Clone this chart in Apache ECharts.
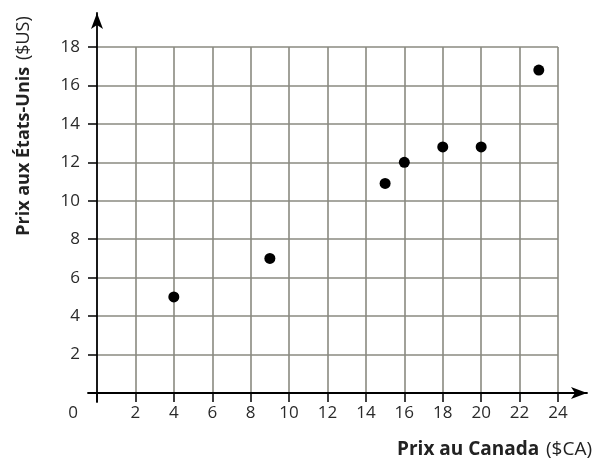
<!DOCTYPE html>
<html><head><meta charset="utf-8">
<script src="https://cdn.jsdelivr.net/npm/echarts@6/dist/echarts.min.js"></script>
<style>html,body{margin:0;padding:0;background:#fff}#c{width:596px;height:463px}</style>
</head><body><div id="c"></div>
<script>
// Data
const canadaPrices = [4, 9, 15, 16, 18, 20, 23];      // Prix au Canada ($CA)
const usPrices     = [5, 7, 10.9, 12, 12.8, 12.8, 16.8]; // Prix aux États-Unis ($US)
const xTicks = [0, 2, 4, 6, 8, 10, 12, 14, 16, 18, 20, 22, 24];
const yTicks = [0, 2, 4, 6, 8, 10, 12, 14, 16, 18];
const xTitle = ['Prix au Canada', '($CA)'];
const yTitle = ['Prix aux États-Unis', '($US)'];

const FONT = "'Open Sans', sans-serif";
const TXT = '#2a2a2a';
const GRIDC = '#8a8a80';

const points = canadaPrices.map((x, i) => [x, usPrices[i]]);

const chart = echarts.init(document.getElementById('c'), null, {renderer: 'canvas'});
chart.setOption({
  animation: false,
  backgroundColor: '#fff',
  grid: [
    {left: 97, right: 38, top: 47, bottom: 70},
    {left: 88, right: 9, top: 13, bottom: 61}
  ],
  xAxis: [
    {
      gridIndex: 0, type: 'value',
      min: xTicks[0], max: xTicks[xTicks.length - 1], interval: xTicks[1] - xTicks[0],
      axisLine: {show: false},
      axisTick: {show: true, length: 9, lineStyle: {color: '#000', width: 1.5}},
      splitLine: {show: true, showMinLine: false, lineStyle: {color: GRIDC, width: 1.6}},
      axisLabel: {
        margin: 12, color: TXT, fontFamily: FONT, fontSize: 17,
        showMinLabel: true, showMaxLabel: true,
        formatter: v => v === 0 ? '{z|0}' : String(v),
        rich: {z: {padding: [0, 48, 0, 0], fontFamily: FONT, fontSize: 17, color: TXT}}
      }
    },
    {
      gridIndex: 1, type: 'value', min: -0.4686, max: 25.51,
      axisLine: {show: true, onZero: true, symbol: ['none', 'arrow'], symbolSize: [9, 16],
                 lineStyle: {color: '#000', width: 1.8}},
      axisTick: {show: false}, axisLabel: {show: false}, splitLine: {show: false}
    }
  ],
  yAxis: [
    {
      gridIndex: 0, type: 'value',
      min: yTicks[0], max: yTicks[yTicks.length - 1], interval: yTicks[1] - yTicks[0],
      axisLine: {show: false},
      axisTick: {show: true, length: 9, lineStyle: {color: '#000', width: 1.5}},
      splitLine: {show: true, showMinLine: false, lineStyle: {color: GRIDC, width: 1.6}},
      axisLabel: {
        margin: 17, color: TXT, fontFamily: FONT, fontSize: 17,
        showMaxLabel: true,
        formatter: v => v === 0 ? '' : String(v)
      }
    },
    {
      gridIndex: 1, type: 'value', min: -0.468, max: 19.77,
      axisLine: {show: true, onZero: true, symbol: ['none', 'arrow'], symbolSize: [9, 16],
                 lineStyle: {color: '#000', width: 1.8}},
      axisTick: {show: false}, axisLabel: {show: false}, splitLine: {show: false}
    }
  ],
  series: [{
    type: 'scatter', xAxisIndex: 0, yAxisIndex: 0,
    data: points, symbol: 'circle', symbolSize: 11, clip: false, z: 10,
    itemStyle: {color: '#000', opacity: 1}
  }],
  graphic: [
    {
      type: 'text', right: 4, top: 440,
      style: {
        text: '{b|' + xTitle[0] + '}  {n|' + xTitle[1] + '}',
        rich: {
          b: {fontFamily: FONT, fontWeight: 'bold', fontSize: 19, fill: '#222'},
          n: {fontFamily: FONT, fontSize: 19, fill: '#222'}
        }
      }
    },
    {
      type: 'text', x: 24, y: 126, rotation: Math.PI / 2,
      style: {
        text: '{b|' + yTitle[0] + '}  {n|' + yTitle[1] + '}',
        align: 'center', verticalAlign: 'middle',
        rich: {
          b: {fontFamily: FONT, fontWeight: 'bold', fontSize: 18, fill: '#222'},
          n: {fontFamily: FONT, fontSize: 18, fill: '#222'}
        }
      }
    }
  ]
});
</script>
</body></html>
